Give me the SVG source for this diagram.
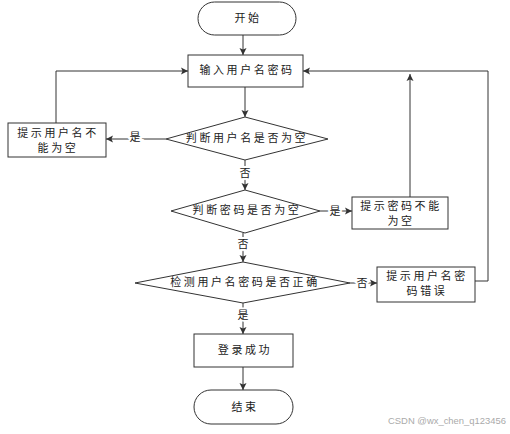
<svg xmlns="http://www.w3.org/2000/svg" width="510" height="434" viewBox="0 0 510 434">
<defs>
<marker id="ah" markerWidth="8" markerHeight="8" refX="7" refY="4" orient="auto" markerUnits="userSpaceOnUse">
<path d="M0,0.5 L7,4 L0,7.5 L1.5,4 Z" fill="#333"/>
</marker>
</defs>
<style>
.shape{fill:#fff;stroke:#333;stroke-width:1}
.t{font-family:"Noto Sans CJK SC","Noto Sans",sans-serif;font-size:11px;letter-spacing:2.6px;fill:#222;text-anchor:middle;dominant-baseline:central}
.lbl{font-family:"Noto Sans CJK SC","Noto Sans",sans-serif;font-size:11px;fill:#222;text-anchor:middle;dominant-baseline:central}
.bg{fill:#fff;stroke:#fff;stroke-width:4}
.c{fill:none;stroke:#333;stroke-width:1;marker-end:url(#ah)}
</style>
<rect width="510" height="434" fill="#fff"/>
<g id="connectors">
<path class="c" d="M243,35 V55"/>
<path class="c" d="M245,87 V117"/>
<path class="c" d="M166,139 H106"/>
<path class="c" d="M56,123 V71 H188"/>
<path class="c" d="M245,160 V190"/>
<path class="c" d="M320,211 H352"/>
<path class="c" d="M410,197 V74"/>
<path class="c" d="M243,233 V262"/>
<path class="c" d="M350,283 H377"/>
<path class="c" d="M475,281 H488 V71 H303"/>
<path class="c" d="M243,303 V334"/>
<path class="c" d="M243,367 V390"/>
</g>
<g id="labels">
<text class="lbl bg" x="135" y="136">是</text>
<text class="lbl" x="135" y="136">是</text>
<text class="lbl bg" x="245" y="172">否</text>
<text class="lbl" x="245" y="172">否</text>
<text class="lbl bg" x="335" y="210">是</text>
<text class="lbl" x="335" y="210">是</text>
<text class="lbl bg" x="243" y="243">否</text>
<text class="lbl" x="243" y="243">否</text>
<text class="lbl bg" x="362" y="282">否</text>
<text class="lbl" x="362" y="282">否</text>
<text class="lbl bg" x="243" y="314">是</text>
<text class="lbl" x="243" y="314">是</text>
</g>
<g id="start">
<rect class="shape" x="198" y="2" width="98" height="33" rx="16.5"/>
<text class="t" x="248" y="17">开始</text>
</g>
<g id="input">
<rect class="shape" x="188" y="55" width="115" height="32"/>
<text class="t" x="247" y="69">输入用户名密码</text>
</g>
<g id="check-user">
<polygon class="shape" points="245,117 328,139 245,160 166,139"/>
<text class="t" x="247" y="137">判断用户名是否为空</text>
</g>
<g id="user-empty">
<rect class="shape" x="8" y="123" width="98" height="34"/>
<text class="t" x="58" y="132">提示用户名不</text>
<text class="t" x="58" y="147">能为空</text>
</g>
<g id="check-pass">
<polygon class="shape" points="245,190 320,211 245,233 171,211"/>
<text class="t" x="247" y="209">判断密码是否为空</text>
</g>
<g id="pass-empty">
<rect class="shape" x="352" y="197" width="96" height="32"/>
<text class="t" x="401" y="205">提示密码不能</text>
<text class="t" x="401" y="220">为空</text>
</g>
<g id="check-both">
<polygon class="shape" points="243,262 350,283 243,303 135,283"/>
<text class="t" x="245" y="281">检测用户名密码是否正确</text>
</g>
<g id="wrong">
<rect class="shape" x="377" y="267" width="98" height="35"/>
<text class="t" x="427" y="275">提示用户名密</text>
<text class="t" x="427" y="290">码错误</text>
</g>
<g id="success">
<rect class="shape" x="194" y="334" width="99" height="33"/>
<text class="t" x="245" y="349">登录成功</text>
</g>
<g id="end">
<rect class="shape" x="194" y="390" width="99" height="34" rx="17"/>
<text class="t" x="245" y="406">结束</text>
</g>
<text x="388" y="424" textLength="118" lengthAdjust="spacingAndGlyphs" style="font-family:'Liberation Sans',sans-serif;font-size:9.5px;fill:#aaa">CSDN @wx_chen_q123456</text>
</svg>
